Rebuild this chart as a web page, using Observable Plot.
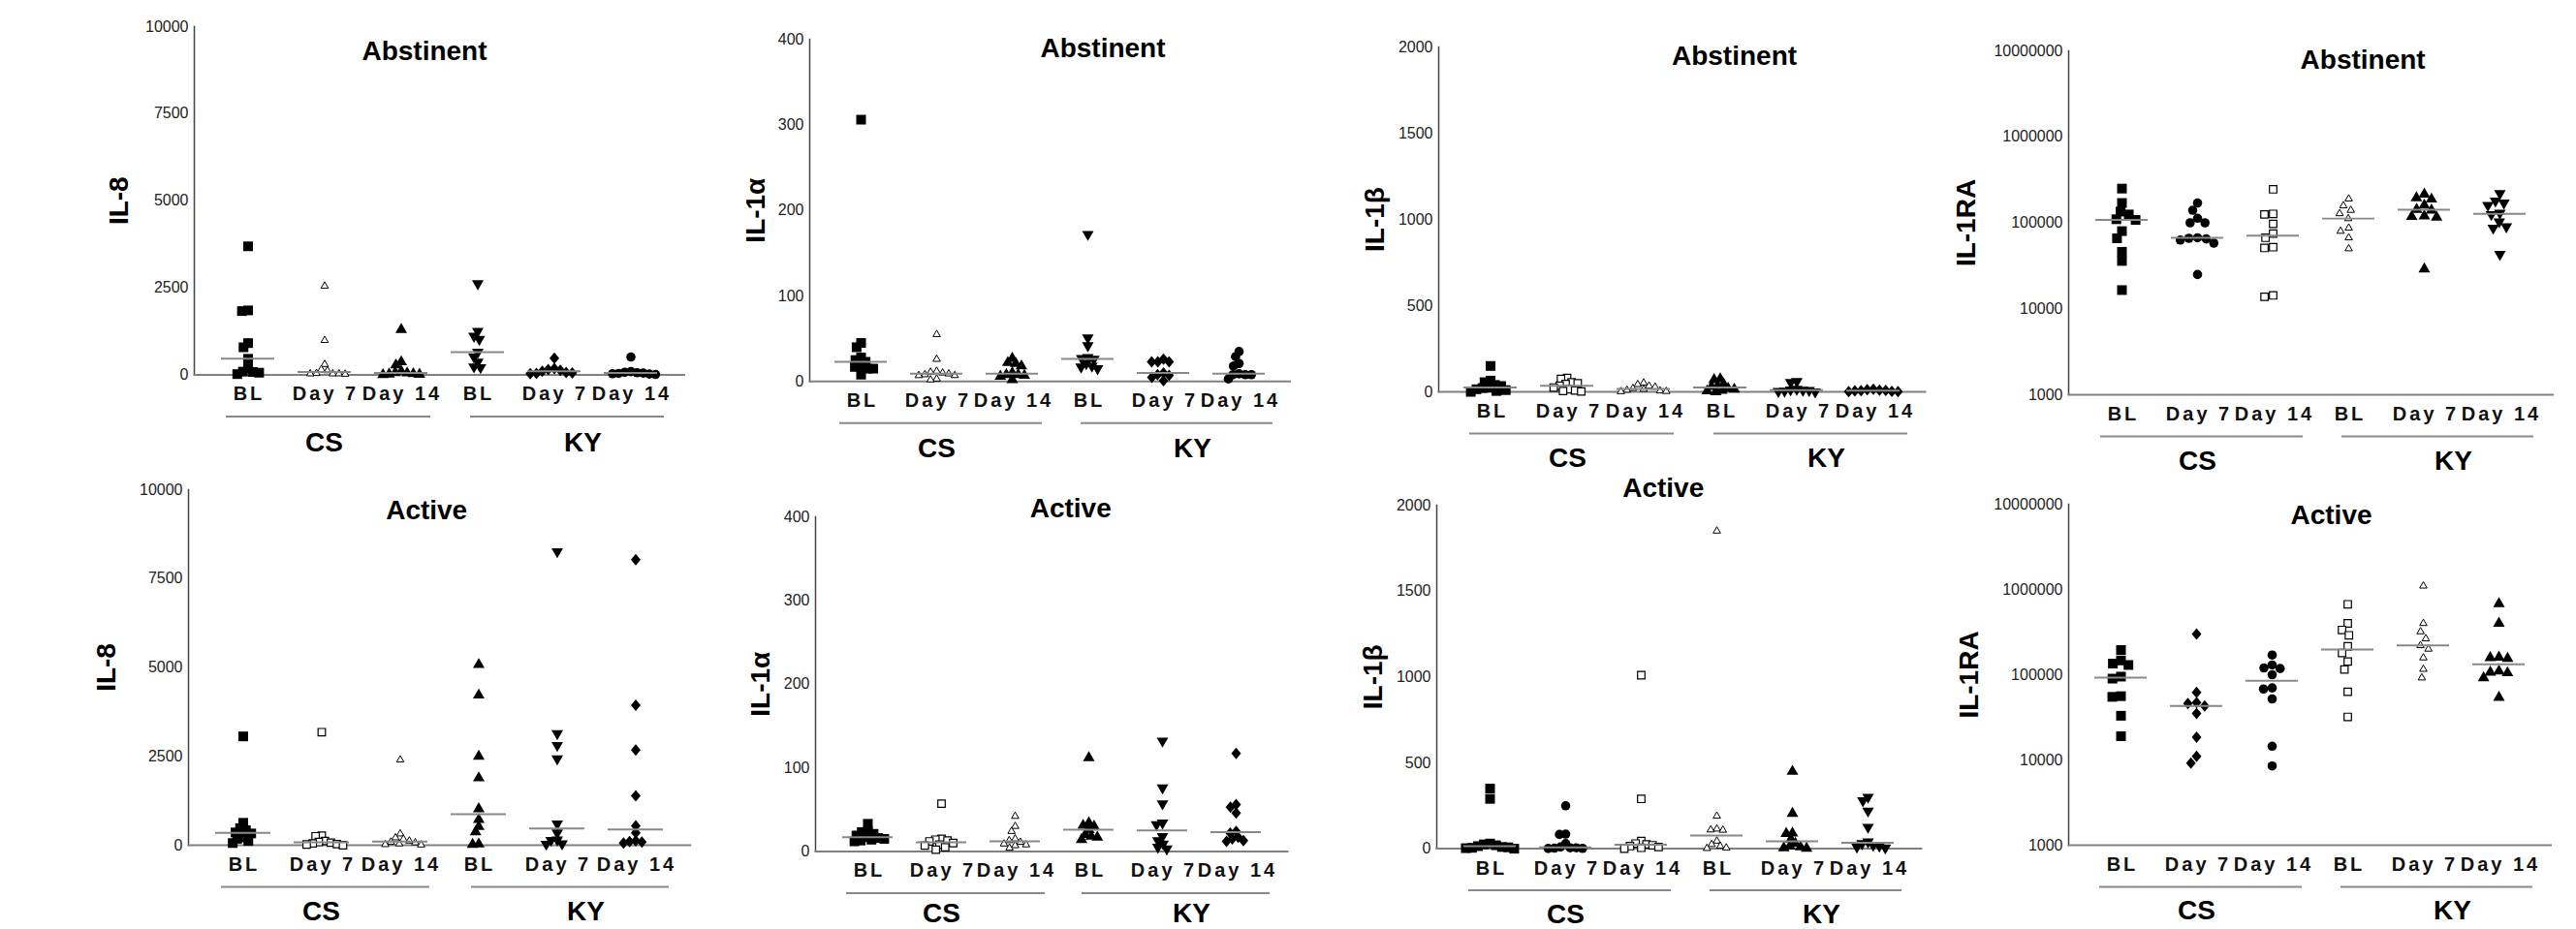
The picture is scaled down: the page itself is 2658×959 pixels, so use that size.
<!DOCTYPE html>
<html>
<head>
<meta charset="utf-8">
<script src="https://cdn.jsdelivr.net/npm/d3@7"></script>
<script src="https://cdn.jsdelivr.net/npm/@observablehq/plot@0.6"></script>
<style>
  body { margin: 0; background: #fff; }
  #chart { position: relative; width: 2658px; height: 959px; overflow: hidden; background: #fff;
           font-family: "Liberation Sans", Arial, sans-serif; }
  #chart svg { position: absolute; }
  #chart g[font-size="20"] text { letter-spacing: 3px; }
</style>
</head>
<body>
<div id="chart"></div>
<script>
// ---------- categories ----------
const groups = ["CS BL", "CS Day 7", "CS Day 14", "KY BL", "KY Day 7", "KY Day 14"];
const visitLabels = ["BL", "Day 7", "Day 14", "BL", "Day 7", "Day 14"];
const cohorts = ["CS", "KY"];
const cohortMembers = { CS: [0, 1, 2], KY: [3, 4, 5] };

// ---------- tick labels ----------
const il8Ticks = [0, 2500, 5000, 7500, 10000];
const il1aTicks = [0, 100, 200, 300, 400];
const il1bTicks = [0, 500, 1000, 1500, 2000];
const il1raTicks = [1000, 10000, 100000, 1000000, 10000000];

// ---------- values (one list per group, order = groups) ----------
const il8Abstinent = [
  [3690, 1850, 1830, 910, 790, 460, 190, 90, 80, 60, 20],
  [2550, 990, 300, 150, 120, 40, 30, 30, 30, 20],
  [1300, 370, 280, 100, 60, 50, 30, 20, 10, 0],
  [2620, 1250, 1110, 1020, 650, 510, 370, 230, 210],
  [480, 180, 150, 130, 100, 70, 50, 40, 30],
  [510, 90, 70, 60, 50, 40, 30, 20, 10]
];
const il1aAbstinent = [
  [306, 45, 40, 28, 25, 23, 17, 17, 15, 15, 8],
  [55, 26, 12, 11, 10, 9, 8, 7, 7, 3, 2],
  [27, 22, 21, 18, 10, 8, 8, 7, 6, 2],
  [172, 51, 42, 28, 27, 26, 21, 18, 17, 15],
  [26, 23, 23, 23, 10, 8, 7, 5, 1],
  [35, 29, 21, 18, 9, 8, 8, 8, 3]
];
const il1bAbstinent = [
  [150, 65, 56, 40, 34, 25, 22, 15, 10, 5, 0],
  [80, 75, 55, 50, 45, 35, 25, 15, 8, 5, 2],
  [52, 43, 34, 28, 20, 15, 10, 6, 3, 2],
  [75, 70, 45, 35, 30, 20, 15, 8, 5, 0],
  [60, 55, 15, 12, 10, 8, 5, 3, 0],
  [15, 12, 10, 8, 7, 5, 3, 2, 1]
];
const il1raAbstinent = [
  [250000, 170000, 135000, 125000, 110000, 108000, 80000, 66000, 46000, 36000, 16500],
  [170000, 140000, 113000, 100000, 100000, 67000, 66000, 65000, 63000, 58000, 25000],
  [245000, 127000, 125000, 97000, 75000, 67000, 52000, 51000, 14300, 13800],
  [190000, 158000, 140000, 128000, 112000, 87000, 80000, 67000, 50000],
  [215000, 195000, 188000, 160000, 143000, 140000, 120000, 118000, 116000, 29000],
  [220000, 180000, 170000, 160000, 130000, 125000, 103000, 90000, 87000, 43000]
];
const il8Active = [
  [3060, 630, 480, 420, 360, 330, 220, 180, 120, 60],
  [3180, 270, 250, 120, 90, 70, 50, 30, 20, 0],
  [2400, 320, 210, 170, 120, 90, 70, 40, 20, 10],
  [5080, 4220, 2500, 1890, 1020, 720, 520, 370, 30, 20],
  [8260, 3140, 2810, 2430, 600, 346, 150, 140, 40, 30],
  [8030, 3940, 2680, 1390, 545, 346, 120, 100, 90, 60]
];
const il1aActive = [
  [33, 24, 23, 21, 19, 17, 16, 15, 14, 13, 12],
  [57, 15, 14, 13, 12, 10, 8, 7, 5, 2],
  [42, 30, 24, 15, 13, 11, 9, 8, 7, 4],
  [112, 34, 31, 30, 26, 20, 18, 17, 14],
  [132, 76, 57, 34, 32, 18, 13, 9, 5, 3],
  [117, 56, 53, 46, 24, 22, 17, 15, 13, 12]
];
const il1bActive = [
  [350, 290, 30, 25, 20, 15, 10, 8, 5, 3, 0],
  [250, 85, 83, 30, 10, 5, 5, 3, 2, 1],
  [1010, 290, 45, 30, 25, 20, 15, 10, 5, 0],
  [1850, 190, 115, 110, 108, 45, 25, 15, 5, 2],
  [450, 205, 90, 88, 55, 30, 15, 10, 5, 2],
  [300, 280, 220, 125, 40, 30, 20, 15, 10, 5]
];
const il1raActive = [
  [195000, 147000, 135000, 130000, 95000, 90000, 56000, 55000, 33000, 19000],
  [300000, 62000, 47000, 46000, 43000, 35000, 18500, 11000, 9200],
  [170000, 130000, 120000, 118000, 100000, 70000, 68000, 52000, 14500, 8500],
  [670000, 400000, 335000, 290000, 215000, 180000, 143000, 115000, 63000, 32000],
  [1100000, 400000, 320000, 265000, 220000, 200000, 158000, 116000, 92000],
  [680000, 400000, 160000, 158000, 155000, 110000, 107000, 105000, 92000, 54000]
];

// ---------- marker styles ----------
function poly(pts) {
  return { draw(c) { c.moveTo(pts[0][0], pts[0][1]); for (let k = 1; k < pts.length; k++) c.lineTo(pts[k][0], pts[k][1]); c.closePath(); } };
}
const triUp = h => poly([[0, -h * 1.155], [h, h * 0.577], [-h, h * 0.577]]);
const triDown = h => poly([[0, h * 1.155], [h, -h * 0.577], [-h, -h * 0.577]]);
const markerStyles = {
  sq:   { symbol: { draw(c) { c.rect(-5, -5, 10, 10); } }, fill: "#000", stroke: "none" },
  osq:  { symbol: { draw(c) { c.rect(-3.8, -3.8, 7.6, 7.6); } }, fill: "#fff", stroke: "#000", strokeWidth: 1.2 },
  tri:  { symbol: triUp(6), fill: "#000", stroke: "none" },
  otri: { symbol: triUp(3.8), fill: "#fff", stroke: "#000", strokeWidth: 1 },
  itri: { symbol: triDown(6), fill: "#000", stroke: "none" },
  dia:  { symbol: poly([[0, -6], [5, 0], [0, 6], [-5, 0]]), fill: "#000", stroke: "none" },
  cir:  { symbol: { draw(c) { c.moveTo(4.8, 0); c.arc(0, 0, 4.8, 0, 2 * Math.PI); } }, fill: "#000", stroke: "none" }
};

// ---------- panels (data refs + layout) ----------
const panels = [
  { values: il8Abstinent, label: "IL-8", title: "Abstinent", ticks: il8Ticks, log: false,
    shapes: ["sq", "otri", "tri", "itri", "dia", "cir"],
    axisX: 199.5, endX: 705, topY: 27.3, zeroY: 386.7, titleDx: 237.5, titleDy: 26, ylabDx: -77, cohortDy: 70 },
  { values: il1aAbstinent, label: "IL-1α", title: "Abstinent", ticks: il1aTicks, log: false,
    shapes: ["sq", "otri", "tri", "itri", "dia", "cir"],
    axisX: 835, endX: 1330.5, topY: 40, zeroY: 393.3, titleDx: 302.5, titleDy: 10, ylabDx: -55, cohortDy: 69 },
  { values: il1bAbstinent, label: "IL-1β", title: "Abstinent", ticks: il1bTicks, log: false,
    shapes: ["sq", "osq", "otri", "tri", "itri", "dia"],
    axisX: 1484, endX: 1986, topY: 48.3, zeroY: 404.3, titleDx: 305, titleDy: 9.7, ylabDx: -65, cohortDy: 69 },
  { values: il1raAbstinent, label: "IL-1RA", title: "Abstinent", ticks: il1raTicks, log: true,
    shapes: ["sq", "cir", "osq", "otri", "tri", "itri"],
    axisX: 2134, endX: 2633.6, topY: 52.3, zeroY: 407.3, titleDx: 303.6, titleDy: 9.4, ylabDx: -105, cohortDy: 69 },
  { values: il8Active, label: "IL-8", title: "Active", ticks: il8Ticks, log: false,
    shapes: ["sq", "osq", "otri", "tri", "itri", "dia"],
    axisX: 194.3, endX: 712, topY: 505, zeroY: 872, titleDx: 245.7, titleDy: 21.6, ylabDx: -84, cohortDy: 69 },
  { values: il1aActive, label: "IL-1α", title: "Active", ticks: il1aTicks, log: false,
    shapes: ["sq", "osq", "otri", "tri", "itri", "dia"],
    axisX: 840.5, endX: 1327.5, topY: 533.2, zeroY: 878.6, titleDx: 263.2, titleDy: -8.2, ylabDx: -56.5, cohortDy: 64 },
  { values: il1bActive, label: "IL-1β", title: "Active", ticks: il1bTicks, log: false,
    shapes: ["sq", "cir", "osq", "otri", "tri", "itri"],
    axisX: 1482, endX: 1982, topY: 520.6, zeroY: 875.2, titleDx: 233.7, titleDy: -17.6, ylabDx: -65, cohortDy: 68 },
  { values: il1raActive, label: "IL-1RA", title: "Active", ticks: il1raTicks, log: true,
    shapes: ["sq", "dia", "cir", "osq", "otri", "tri"],
    axisX: 2134, endX: 2631.5, topY: 520, zeroY: 872, titleDx: 271, titleDy: 11.5, ylabDx: -102.5, cohortDy: 68 }
];

const underlineExtent = { CS: [22, 31], KY: [7, 35] };
const cohortLabelDx = { CS: 0, KY: 30 };

const chart = document.getElementById("chart");
const ML = 150, MR = 50, MT = 45, MB = 95;
const FONT = "'Liberation Sans', Arial, Helvetica, sans-serif";

for (const p of panels) {
  const W = ML + (p.endX - p.axisX) + MR;
  const H = MT + (p.zeroY - p.topY) + MB;
  const domain = [p.ticks[0], p.ticks[p.ticks.length - 1]];
  const yOpts = p.log ? { type: "log", domain } : { type: "linear", domain };
  const ymin = domain[0];
  const style = { background: "transparent", overflow: "visible", fontFamily: FONT };
  const common = { width: W, height: H, marginLeft: ML, marginRight: MR, marginTop: MT, marginBottom: MB, style };

  // Layer A: axes, labels, titles
  const base = Plot.plot({
    ...common,
    x: { type: "point", domain: groups, padding: 2 / 3, align: 0.5, axis: null },
    y: { ...yOpts },
    marks: [
      Plot.axisY({ ticks: p.ticks, tickSize: 0, tickPadding: 6, fontSize: 16, fill: "#222",
                   label: null, tickFormat: d => String(d) }),
      Plot.frame({ anchor: "left", stroke: "#444", strokeWidth: 1.5 }),
      Plot.frame({ anchor: "bottom", stroke: "#808080", strokeWidth: 2 }),
      Plot.text(groups, { x: d => d, text: (d, i) => visitLabels[i], frameAnchor: "bottom",
                          lineAnchor: "middle", textAnchor: "middle", dy: 20, dx: 1.5, fontSize: 20,
                          fontWeight: "bold", fill: "#111" }),
      ...cohorts.map(c => Plot.ruleY([c], {
        x1: d => groups[cohortMembers[d][0]], x2: d => groups[cohortMembers[d][2]],
        y: () => ymin, dy: 43, stroke: "#888", strokeWidth: 2,
        insetLeft: -underlineExtent[c][0], insetRight: -underlineExtent[c][1] })),
      ...cohorts.map(c => Plot.text([c], {
        x: d => groups[cohortMembers[d][1]], text: d => d, frameAnchor: "bottom",
        lineAnchor: "middle", textAnchor: "middle", dy: p.cohortDy, dx: cohortLabelDx[c],
        fontSize: 28, fontWeight: "bold", fill: "#000" })),
      Plot.text([p.title], { text: d => d, frameAnchor: "top-left", dx: p.titleDx, dy: p.titleDy,
                             textAnchor: "middle", lineAnchor: "middle", fontSize: 28,
                             fontWeight: "bold", fill: "#000" }),
      Plot.text([p.label], { text: d => d, frameAnchor: "left", rotate: -90, dx: p.ylabDx,
                             textAnchor: "middle", lineAnchor: "middle", fontSize: 28,
                             fontWeight: "bold", fill: "#000" })
    ]
  });

  // Layer B: points and medians, one facet per group
  const rows = groups.flatMap((g, i) => p.values[i].map(v => ({ group: g, value: v })));
  const rc = p.log ? 4.5 : 3.2;
  const dots = Plot.plot({
    ...common,
    fx: { domain: groups, paddingInner: 0, paddingOuter: 1 / 6, align: 0.5, axis: null, label: null },
    y: { ...yOpts, axis: null },
    marks: [
      ...groups.map((g, i) => {
        const s = markerStyles[p.shapes[i]];
        return Plot.dot(rows.filter(d => d.group === g),
          Plot.dodgeX({ anchor: "middle", padding: 0 },
            { fx: "group", y: "value", r: rc, symbol: s.symbol, fill: s.fill, stroke: s.stroke,
              strokeWidth: s.strokeWidth || 1 }));
      }),
      Plot.ruleY(rows, Plot.groupZ({ y: "median" },
        { fx: "group", y: "value", stroke: "#888", strokeWidth: 2, insetLeft: 12, insetRight: 12 }))
    ]
  });

  for (const svg of [base, dots]) {
    svg.style.position = "absolute";
    svg.style.left = (p.axisX - ML) + "px";
    svg.style.top = (p.topY - MT) + "px";
    svg.style.maxWidth = "none";
    chart.appendChild(svg);
  }
}
</script>
</body>
</html>
